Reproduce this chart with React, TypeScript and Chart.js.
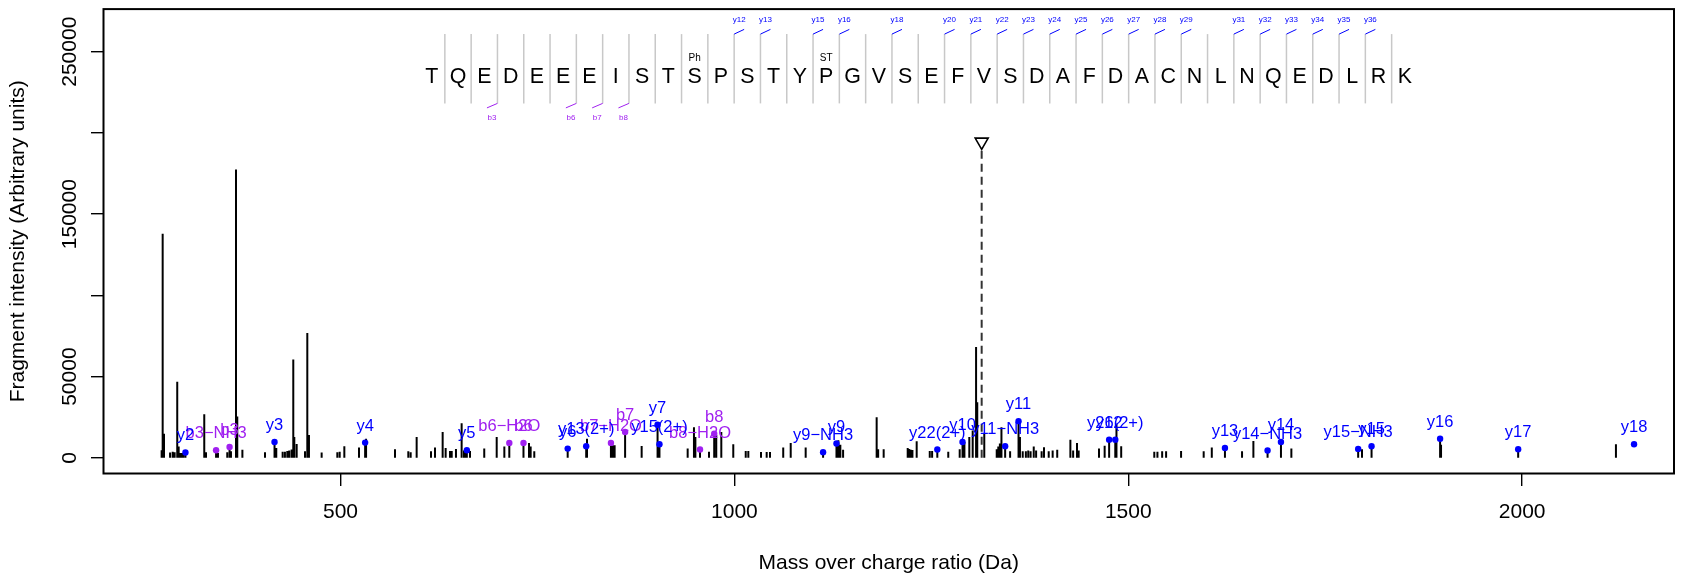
import React, { useEffect, useRef } from 'react';
import { Chart, registerables } from 'chart.js';

Chart.register(...registerables);

const FONT = '"Liberation Sans", Arial, Helvetica, sans-serif';

// ---- spectrum peaks (m/z, intensity) ----
const peakMz = [
  273.0, 274.3, 276.0, 283.7, 287.0, 289.5, 292.8, 294.6, 296.3, 298.4, 300.5, 303.2,
  327.1, 329.3, 342.1, 344.5, 356.3, 359.2, 361.0, 367.4, 369.0, 375.5, 404.2, 416.3,
  418.5, 426.6, 429.5, 432.5, 435.0, 438.0, 440.1, 441.4, 444.4, 455.0, 457.9, 460.0,
  476.1, 496.0, 499.0, 504.9, 523.5, 531.3, 532.5, 569.2, 586.1, 589.1, 596.7, 614.9,
  620.0, 629.7, 633.5, 639.0, 641.2, 646.6, 653.8, 656.8, 658.9, 660.4, 664.4, 682.5,
  698.3, 708.0, 714.3, 732.3, 739.3, 741.4, 746.0, 788.4, 811.9, 812.9, 843.3, 845.5,
  848.0, 861.3, 882.3, 902.5, 904.9, 940.7, 948.7, 950.5, 956.4, 967.8, 974.4, 977.0,
  983.4, 998.6, 1014.4, 1017.7, 1033.8, 1041.0, 1045.2, 1062.0, 1071.5, 1090.5, 1112.6,
  1129.6, 1132.0, 1134.5, 1138.0, 1180.6, 1182.5, 1189.5, 1220.0, 1222.0, 1224.0, 1226.0,
  1231.4, 1248.0, 1251.0, 1257.6, 1271.5, 1286.0, 1289.6, 1292.0, 1298.2, 1302.5, 1306.8,
  1308.3, 1317.2, 1333.0, 1335.0, 1337.0, 1339.0, 1343.7, 1350.0, 1360.7, 1362.5, 1366.0,
  1370.0, 1373.0, 1376.0, 1380.0, 1383.0, 1390.0, 1393.0, 1399.0, 1404.0, 1409.8, 1426.5,
  1430.0, 1434.9, 1437.0, 1462.8, 1470.0, 1475.7, 1483.5, 1485.0, 1491.0, 1533.0, 1537.0,
  1543.0, 1548.0, 1567.0, 1595.7, 1606.0, 1622.7, 1644.4, 1658.8, 1676.8, 1693.8, 1707.0,
  1791.8, 1796.7, 1808.8, 1895.8, 1897.0, 1994.9, 2119.0,
];
const peakIntensity = [
  4700, 138000, 14900, 3300, 3700, 3500, 46800, 7000, 3000, 3000, 3000, 3300,
  26800, 3500, 4700, 3000, 3500, 6700, 4000, 177500, 25400, 5000, 3500, 9800,
  6000, 3700, 3800, 4200, 4500, 5200, 60600, 12800, 8500, 4000, 76800, 14000,
  3300, 3500, 3800, 7100, 6300, 9400, 11800, 5300, 4000, 3500, 12800, 4000,
  6300, 15900, 6000, 4200, 4200, 5500, 21300, 4500, 5000, 4700, 4200, 5700,
  12800, 7000, 9200, 9200, 9200, 7000, 4000, 5700, 7100, 11800, 9200, 7700,
  7700, 15900, 7300, 20400, 8400, 5700, 18900, 12800, 5100, 3700, 14900, 14000,
  15900, 8400, 4200, 4200, 3600, 3600, 3600, 6300, 9200, 6300, 3500,
  8800, 10800, 8000, 5000, 25000, 5300, 5300, 6000, 5500, 5000, 4800,
  10200, 4200, 4200, 5100, 3700, 5300, 9800, 9800, 12800, 16900, 68300,
  34200, 14900, 5300, 7000, 8800, 18900, 7100, 4000, 22600, 12800, 4000,
  4000, 4500, 4000, 7000, 4500, 4000, 6500, 4000, 4500, 5000, 11200,
  4500, 9200, 4500, 5700, 7500, 11200, 11200, 21000, 7100, 3800, 3800,
  4000, 4000, 4200, 4000, 6300, 6100, 4000, 10400, 4500, 9800, 5700,
  5500, 5300, 7100, 11800, 8000, 5300, 8400,
];

// ---- matched y ions (blue) ----
const yIonLabels = [
  'y2', 'y3', 'y4', 'y5', 'y6', 'y13(2+)', 'y7', 'y15(2+)', 'y9\u2212NH3', 'y9',
  'y22(2+)', 'y10', 'y11\u2212NH3', 'y11', 'y12', 'y26(2+)', 'y13', 'y14\u2212NH3', 'y14',
  'y15\u2212NH3', 'y15', 'y16', 'y17', 'y18',
];
const yIonMz = [
  303.2, 416.3, 531.3, 660.4, 788.4, 811.9, 902.5, 904.9, 1112.6, 1129.6,
  1257.6, 1289.6, 1343.7, 1360.7, 1475.7, 1483.5, 1622.7, 1676.8, 1693.8,
  1791.8, 1808.8, 1895.8, 1994.9, 2142.0,
];
const yIonIntensity = [
  3300, 9800, 9400, 4700, 5700, 7100, 20400, 8400, 3500, 8800,
  5100, 9800, 7100, 22600, 11200, 11200, 6100, 4500, 9800,
  5500, 7100, 11800, 5300, 8400,
];

// ---- matched b ions (purple) ----
const bIonLabels = ['b3\u2212NH3', 'b3', 'b6\u2212H2O', 'b6', 'b7\u2212H2O', 'b7', 'b8\u2212H2O', 'b8'];
const bIonMz = [342.1, 359.2, 714.3, 732.3, 843.3, 861.3, 956.4, 974.4];
const bIonIntensity = [4700, 6700, 9200, 9200, 9200, 15900, 5100, 14900];

// ---- precursor ----
const precursorMz = 1313.9;
const precursorLineTop = 190000;
const precursorMarker = 194500;

// ---- peptide sequence annotation ----
const sequence = ['T', 'Q', 'E', 'D', 'E', 'E', 'E', 'I', 'S', 'T', 'S', 'P', 'S', 'T', 'Y', 'P', 'G', 'V', 'S',
  'E', 'F', 'V', 'S', 'D', 'A', 'F', 'D', 'A', 'C', 'N', 'L', 'N', 'Q', 'E', 'D', 'L', 'R', 'K'];
const yFragmentCuts = [12, 13, 15, 16, 18, 20, 21, 22, 23, 24, 25, 26, 27, 28, 29, 31, 32, 33, 34, 35, 36];
const yFragmentLabels = ['y12', 'y13', 'y15', 'y16', 'y18', 'y20', 'y21', 'y22', 'y23', 'y24', 'y25', 'y26',
  'y27', 'y28', 'y29', 'y31', 'y32', 'y33', 'y34', 'y35', 'y36'];
const bFragmentCuts = [3, 6, 7, 8];
const bFragmentLabels = ['b3', 'b6', 'b7', 'b8'];
const modPositions = [11, 16];
const modLabels = ['Ph', 'ST'];

// ---- axes ----
const xTickValues = [500, 1000, 1500, 2000];
const xTickLabels = ['500', '1000', '1500', '2000'];
const yTickValues = [0, 50000, 100000, 150000, 200000, 250000];
const yTickLabels = ['0', '50000', '', '150000', '', '250000'];
const xTitle = 'Mass over charge ratio (Da)';
const yTitle = 'Fragment intensity (Arbitrary units)';

const BLUE = '#0000FF';
const PURPLE = '#A020F0';

const annotPlugin = {
  id: 'annot',
  afterDatasetsDraw(chart: any) {
    const ctx = chart.ctx;
    const xs = chart.scales.x;
    const ys = chart.scales.y;
    ctx.save();
    ctx.font = `16.5px ${FONT}`;
    ctx.textAlign = 'center';
    ctx.textBaseline = 'alphabetic';
    ctx.fillStyle = PURPLE;
    bIonLabels.forEach((t, i) => {
      ctx.fillText(t, xs.getPixelForValue(bIonMz[i]), ys.getPixelForValue(bIonIntensity[i]) - 12);
    });
    ctx.fillStyle = BLUE;
    yIonLabels.forEach((t, i) => {
      ctx.fillText(t, xs.getPixelForValue(yIonMz[i]), ys.getPixelForValue(yIonIntensity[i]) - 12);
    });
    ctx.restore();
  },
  afterDraw(chart: any) {
    const ctx = chart.ctx;
    const a = chart.chartArea;
    const xs = chart.scales.x;
    const ys = chart.scales.y;
    ctx.save();
    // frame
    ctx.strokeStyle = '#000';
    ctx.lineWidth = 2;
    ctx.strokeRect(a.left, a.top, a.right - a.left, a.bottom - a.top);

    ctx.fillStyle = '#000';
    ctx.font = `21px ${FONT}`;
    // x tick labels
    ctx.textAlign = 'center';
    ctx.textBaseline = 'alphabetic';
    xTickValues.forEach((v, i) => {
      ctx.fillText(xTickLabels[i], xs.getPixelForValue(v), a.bottom + 44);
    });
    ctx.fillText(xTitle, (a.left + a.right) / 2, a.bottom + 95);
    // y tick labels
    yTickValues.forEach((v, i) => {
      if (!yTickLabels[i]) return;
      ctx.save();
      ctx.translate(a.left - 28, ys.getPixelForValue(v));
      ctx.rotate(-Math.PI / 2);
      ctx.fillText(yTickLabels[i], 0, 0);
      ctx.restore();
    });
    ctx.save();
    ctx.translate(a.left - 80, (a.top + a.bottom) / 2);
    ctx.rotate(-Math.PI / 2);
    ctx.fillText(yTitle, 0, 0);
    ctx.restore();

    // sequence annotation
    const x0 = a.left + 328.2;
    const step = 26.3;
    const lineTop = a.top + 25;
    const lineBot = a.top + 94.3;
    ctx.strokeStyle = '#C8C8C8';
    ctx.lineWidth = 1.5;
    for (let i = 1; i < sequence.length; i++) {
      const lx = x0 + (i - 0.5) * step;
      ctx.beginPath();
      ctx.moveTo(lx, lineTop);
      ctx.lineTo(lx, lineBot);
      ctx.stroke();
    }
    ctx.fillStyle = '#000';
    ctx.font = `21.4px ${FONT}`;
    ctx.textAlign = 'center';
    sequence.forEach((s, i) => {
      ctx.fillText(s, x0 + i * step, a.top + 73.4);
    });
    ctx.font = `10px ${FONT}`;
    modPositions.forEach((p, i) => {
      ctx.fillText(modLabels[i], x0 + (p - 1) * step, a.top + 51.8);
    });
    // y fragment markers
    ctx.lineWidth = 1;
    ctx.strokeStyle = BLUE;
    ctx.fillStyle = BLUE;
    ctx.font = `8px ${FONT}`;
    yFragmentCuts.forEach((c, i) => {
      const lx = x0 + (c - 0.5) * step;
      ctx.beginPath();
      ctx.moveTo(lx, lineTop);
      ctx.lineTo(lx + 10, lineTop - 4.7);
      ctx.stroke();
      ctx.fillText(yFragmentLabels[i], lx + 5, a.top + 12.8);
    });
    // b fragment markers
    ctx.strokeStyle = PURPLE;
    ctx.fillStyle = PURPLE;
    bFragmentCuts.forEach((c, i) => {
      const lx = x0 + (c - 0.5) * step;
      ctx.beginPath();
      ctx.moveTo(lx, lineBot);
      ctx.lineTo(lx - 10.5, lineBot + 4.5);
      ctx.stroke();
      ctx.fillText(bFragmentLabels[i], lx - 5.4, a.top + 111);
    });
    ctx.restore();
  },
};

export default function App() {
  const ref = useRef<HTMLCanvasElement | null>(null);
  useEffect(() => {
    if (!ref.current) return;
    const peakData: any[] = [];
    peakMz.forEach((mz, i) => {
      peakData.push({ x: mz, y: 0 }, { x: mz, y: peakIntensity[i] }, { x: mz, y: null });
    });
    const chart = new Chart(ref.current, {
      type: 'scatter',
      data: {
        datasets: [
          {
            label: 'y ions',
            data: yIonMz.map((x, i) => ({ x, y: yIonIntensity[i] })),
            pointRadius: 3.2,
            pointBackgroundColor: BLUE,
            pointBorderWidth: 0,
            order: 0,
          },
          {
            label: 'b ions',
            data: bIonMz.map((x, i) => ({ x, y: bIonIntensity[i] })),
            pointRadius: 3.2,
            pointBackgroundColor: PURPLE,
            pointBorderWidth: 0,
            order: 1,
          },
          {
            label: 'precursor marker',
            data: [{ x: precursorMz, y: precursorMarker }],
            pointStyle: 'triangle',
            pointRotation: 180,
            pointRadius: 7.5,
            pointBackgroundColor: '#FFFFFF',
            pointBorderColor: '#000000',
            pointBorderWidth: 1.6,
            order: 2,
          },
          {
            label: 'precursor',
            data: [{ x: precursorMz, y: 0 }, { x: precursorMz, y: precursorLineTop }],
            showLine: true,
            borderColor: '#333333',
            borderWidth: 2,
            borderDash: [8, 5],
            pointRadius: 0,
            order: 3,
          },
          {
            label: 'peaks',
            data: peakData,
            showLine: true,
            spanGaps: false,
            borderColor: '#000000',
            borderWidth: 2,
            pointRadius: 0,
            order: 4,
          },
        ] as any,
      },
      options: {
        animation: false,
        responsive: false,
        devicePixelRatio: 1,
        events: [],
        plugins: { legend: { display: false }, tooltip: { enabled: false } },
        layout: { padding: { top: 4.7, right: 16, left: 0, bottom: 0 } },
        scales: {
          x: {
            type: 'linear',
            min: 199.2,
            max: 2192.7,
            afterBuildTicks: (s: any) => {
              s.ticks = xTickValues.map((v) => ({ value: v }));
            },
            afterFit: (s: any) => {
              s.height = 103.5;
              s.paddingLeft = 0;
              s.paddingRight = 0;
            },
            ticks: { display: false },
            grid: { drawOnChartArea: false, drawTicks: true, tickLength: 12.5, color: '#000', lineWidth: 1.4 },
            border: { display: false },
          },
          y: {
            type: 'linear',
            min: -9630,
            max: 276220,
            afterBuildTicks: (s: any) => {
              s.ticks = yTickValues.map((v) => ({ value: v }));
            },
            afterFit: (s: any) => {
              s.width = 103.5;
              s.paddingTop = 0;
              s.paddingBottom = 0;
            },
            ticks: { display: false },
            grid: { drawOnChartArea: false, drawTicks: true, tickLength: 12.5, color: '#000', lineWidth: 1.4 },
            border: { display: false },
          },
        },
      } as any,
      plugins: [annotPlugin],
    });
    return () => chart.destroy();
  }, []);
  return (
    <div style={{ position: 'absolute', left: 0, top: 0, width: 1690, height: 577, background: '#fff' }}>
      <canvas ref={ref} width={1690} height={577} style={{ display: 'block' }} />
    </div>
  );
}
